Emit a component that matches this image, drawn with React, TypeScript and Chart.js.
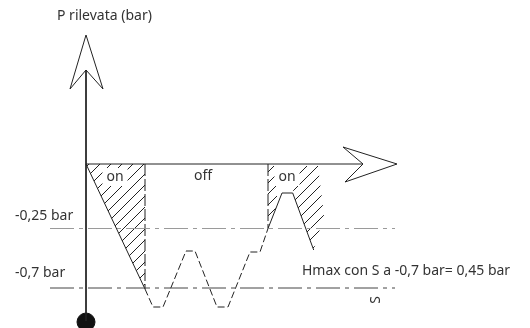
import React, { useEffect, useRef } from "react";
import { Chart, registerables } from "chart.js";

Chart.register(...registerables);

// Diagram coordinate system: origin at the crossing of the two axes,
// x to the right (time), y upward (pressure, schematic units).
const X_MIN = -86;
const X_MAX = 444;
const Y_MIN = -164;
const Y_MAX = 164;

type P = { x: number; y: number };

const pressureAxis: P[] = [{ x: 0, y: 94 }, { x: 0, y: -157 }];
const upArrow: P[] = [{ x: 0, y: 94 }, { x: -16, y: 75 }, { x: 0, y: 129 }, { x: 17, y: 75 }, { x: 0, y: 94 }];
const timeAxis: P[] = [{ x: 0, y: 0 }, { x: 277, y: 0 }];
const rightArrow: P[] = [{ x: 277, y: 0 }, { x: 257, y: 17 }, { x: 311, y: 0 }, { x: 259, y: -18 }, { x: 277, y: 0 }];
const originDot: P[] = [{ x: 0, y: -158 }];

const level025: P[] = [{ x: -36, y: -64.5 }, { x: 309, y: -64.5 }];
const level07: P[] = [{ x: -36, y: -124 }, { x: 309, y: -124 }];

const onRamp: P[] = [{ x: 0, y: 0 }, { x: 59, y: -125 }];
const onEnd: P[] = [{ x: 59, y: 0 }, { x: 59, y: -125 }];
const offWave: P[] = [
  { x: 59, y: -125 }, { x: 67, y: -143 }, { x: 77, y: -143 }, { x: 100, y: -87 },
  { x: 109, y: -87 }, { x: 131, y: -143 }, { x: 142, y: -143 }, { x: 164, y: -88 },
  { x: 174, y: -88 }, { x: 182, y: -64.5 },
];
const onStart2: P[] = [{ x: 182, y: 0 }, { x: 182, y: -64.5 }];
const onPeak: P[] = [{ x: 182, y: -64.5 }, { x: 196, y: -29 }, { x: 206.7, y: -29 }, { x: 227.7, y: -86 }];

// hatched regions
const hatchTriangle: P[] = [{ x: 0, y: 0 }, { x: 59, y: 0 }, { x: 59, y: -125 }];
const hatchLeft2: P[] = [{ x: 182, y: -2 }, { x: 191, y: -2 }, { x: 191, y: -41 }, { x: 182, y: -64 }];
const hatchRight2: P[] = [{ x: 206.7, y: -29 }, { x: 213, y: -2 }, { x: 232, y: -2 }, { x: 238, y: -51 }, { x: 227.7, y: -86 }];
const hatchRegions: P[][] = [hatchTriangle, hatchLeft2, hatchRight2];

// texts
const labelTexts = ["P rilevata (bar)", "-0,25 bar", "-0,7 bar", "on", "off", "on", "Hmax con S a -0,7 bar= 0,45 bar", "S"];
const labelX = [-29, -71, -71, 29, 117, 201, 216, 290];
const labelY = [148, -52, -109.5, -13, -12, -13, -107, -136];
const labelAlign: CanvasTextAlign[] = ["left", "left", "left", "center", "center", "center", "left", "center"];
const labelClear = [false, false, false, true, false, true, false, false];
const labelRotate = [0, 0, 0, 0, 0, 0, 0, -90];

function makeHatch(): CanvasPattern | string {
  const s = 11;
  const c = document.createElement("canvas");
  c.width = s;
  c.height = s;
  const g = c.getContext("2d");
  if (!g) return "#222";
  g.strokeStyle = "#222";
  g.lineWidth = 1;
  g.beginPath();
  g.moveTo(-1, s + 1);
  g.lineTo(s + 1, -1);
  g.moveTo(-2, 2);
  g.lineTo(2, -2);
  g.moveTo(s - 2, s + 2);
  g.lineTo(s + 2, s - 2);
  g.stroke();
  return g.createPattern(c, "repeat") || "#222";
}

const line = (data: P[], color: string, dash: number[] = [], width = 1) => ({
  type: "scatter" as const,
  data,
  showLine: true,
  borderColor: color,
  borderWidth: width,
  borderDash: dash,
  pointRadius: 0,
  pointHoverRadius: 0,
  fill: false,
  tension: 0,
});

export default function App() {
  const ref = useRef<HTMLCanvasElement>(null);

  useEffect(() => {
    if (!ref.current) return;
    const hatch = makeHatch();

    const hatchPlugin = {
      id: "hatch",
      beforeDatasetsDraw(chart: any) {
        const { ctx, scales } = chart;
        ctx.save();
        ctx.fillStyle = hatch;
        for (const poly of hatchRegions) {
          ctx.beginPath();
          poly.forEach((p, i) => {
            const px = scales.x.getPixelForValue(p.x);
            const py = scales.y.getPixelForValue(p.y);
            if (i === 0) ctx.moveTo(px, py);
            else ctx.lineTo(px, py);
          });
          ctx.closePath();
          ctx.fill();
        }
        ctx.restore();
      },
    };

    const textPlugin = {
      id: "texts",
      afterDatasetsDraw(chart: any) {
        const { ctx, scales } = chart;
        ctx.save();
        ctx.font = '14px "Noto Sans", sans-serif';
        ctx.textBaseline = "middle";
        labelTexts.forEach((t, i) => {
          const px = scales.x.getPixelForValue(labelX[i]);
          const py = scales.y.getPixelForValue(labelY[i]);
          ctx.save();
          ctx.translate(px, py);
          ctx.rotate((labelRotate[i] * Math.PI) / 180);
          ctx.textAlign = labelAlign[i];
          if (labelClear[i]) {
            const w = ctx.measureText(t).width;
            ctx.fillStyle = "#fff";
            ctx.fillRect(-w / 2 - 4, -9, w + 8, 18);
          }
          ctx.fillStyle = "#333";
          ctx.fillText(t, 0, 0);
          ctx.restore();
        });
        ctx.restore();
      },
    };

    const chart = new Chart(ref.current, {
      type: "scatter",
      data: {
        datasets: [
          line(level025, "#9a9a9a", [24, 5, 4, 5]),
          line(level07, "#444", [24, 5, 4, 5]),
          line(pressureAxis, "#222"),
          line(upArrow, "#222"),
          line(timeAxis, "#222"),
          line(rightArrow, "#222"),
          line(onRamp, "#222"),
          line(onEnd, "#222", [12, 3]),
          line(offWave, "#222", [7, 3]),
          line(onStart2, "#222", [12, 3]),
          line(onPeak, "#222"),
          {
            type: "scatter" as const,
            data: originDot,
            pointRadius: 9,
            pointHoverRadius: 9,
            pointBackgroundColor: "#111",
            pointBorderColor: "#111",
            showLine: false,
            clip: false,
          },
        ] as any,
      },
      options: {
        animation: false,
        responsive: false,
        maintainAspectRatio: false,
        layout: { padding: 0, autoPadding: false },
        events: [],
        scales: {
          x: { type: "linear", min: X_MIN, max: X_MAX, display: false },
          y: { type: "linear", min: Y_MIN, max: Y_MAX, display: false },
        },
        plugins: {
          legend: { display: false },
          tooltip: { enabled: false },
          title: { display: false },
        },
      },
      plugins: [hatchPlugin, textPlugin],
    });
    return () => chart.destroy();
  }, []);

  return (
    <div style={{ position: "absolute", left: 0, top: 0, width: 530, height: 328, background: "#fff" }}>
      <canvas ref={ref} width={530} height={328} style={{ display: "block" }} />
    </div>
  );
}
